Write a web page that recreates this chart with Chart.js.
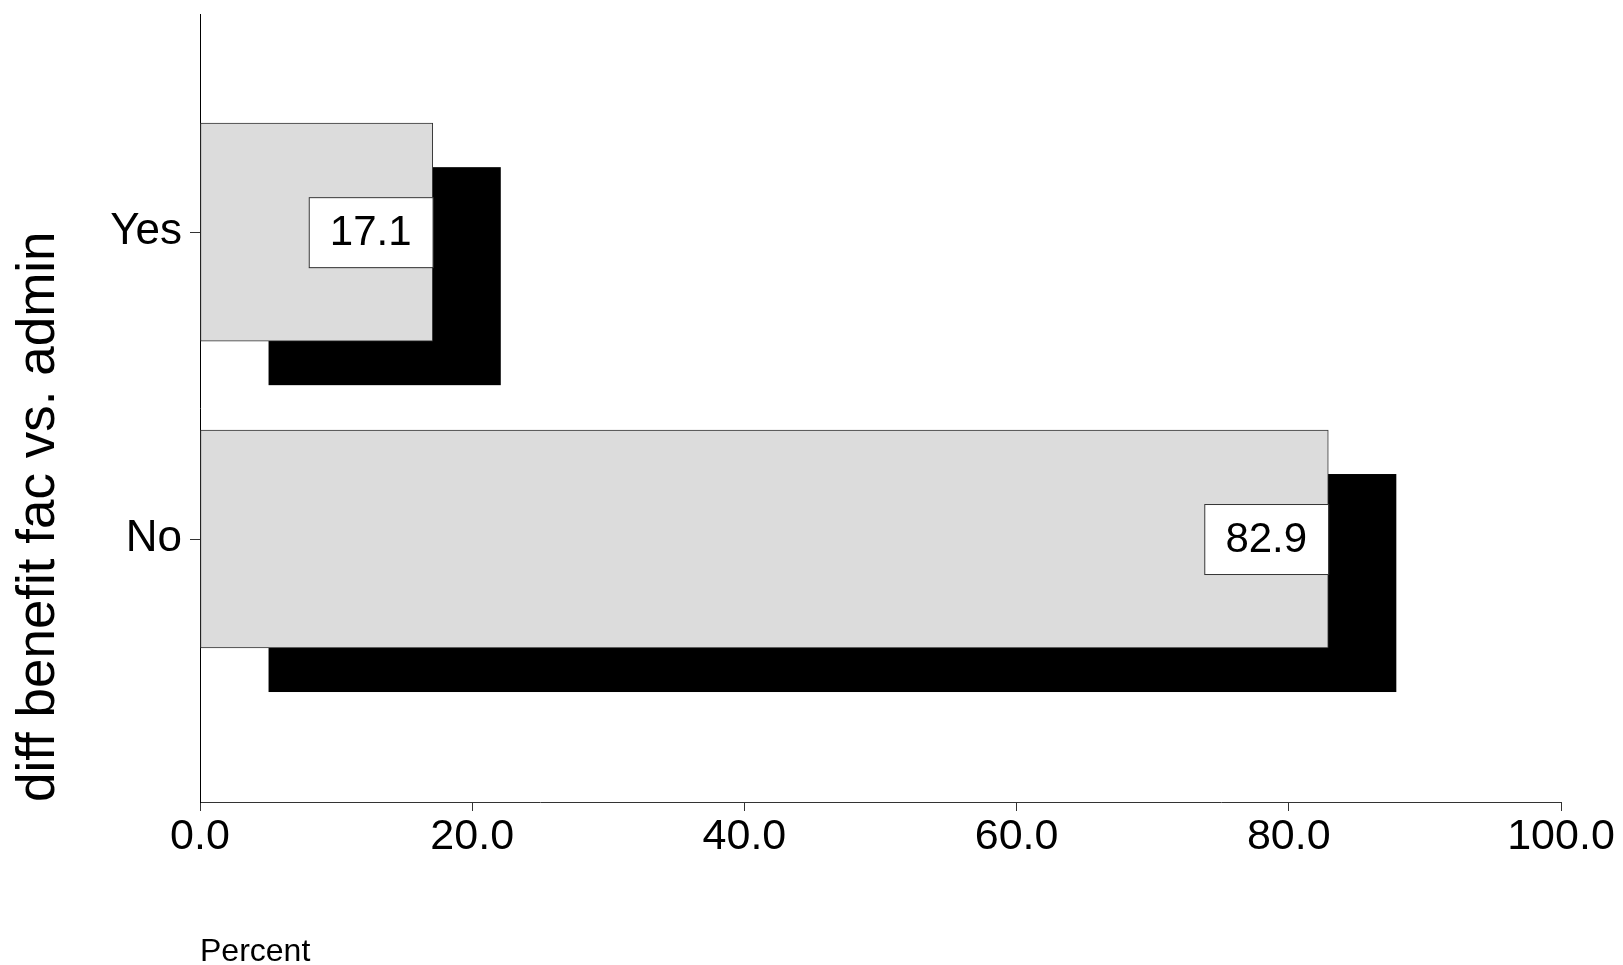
<!DOCTYPE html>
<html>
<head>
<meta charset="utf-8">
<script src="https://cdn.jsdelivr.net/npm/chart.js@4"></script>
<style>
  body { margin: 0; background: #fff; }
  #wrap { width: 1623px; height: 965px; }
</style>
</head>
<body>
<div id="wrap"><canvas id="chart"></canvas></div>
<script>
  // categories and values (top to bottom)
  const categories = ["Yes", "No"];
  const percents = [17.1, 82.9];
  const xTicks = [0, 20, 40, 60, 80, 100];

  const FONT = "'Liberation Sans', Arial, sans-serif";

  // first category goes on top
  const rowOf = (i) => categories.length - 1 - i;

  // black drop shadow behind each bar, and the boxed value labels
  const shadowPlugin = {
    id: "shadow",
    beforeDatasetsDraw(chart) {
      const ctx = chart.ctx;
      const xs = chart.scales.x;
      const dx = xs.getPixelForValue(5) - xs.getPixelForValue(0);
      const dy = 44;
      ctx.save();
      ctx.fillStyle = "#000";
      chart.getDatasetMeta(0).data.forEach((bar) => {
        const p = bar.getProps(["x", "y", "base", "height"], true);
        ctx.fillRect(p.base + dx, p.y - p.height / 2 + dy, p.x - p.base, p.height);
      });
      ctx.restore();
    },
    afterDatasetsDraw(chart) {
      const ctx = chart.ctx;
      ctx.save();
      chart.getDatasetMeta(0).data.forEach((bar, i) => {
        const p = bar.getProps(["x", "y"], true);
        const w = 124, h = 70;
        ctx.fillStyle = "#fff";
        ctx.fillRect(p.x - w, p.y - h / 2, w, h);
        ctx.strokeStyle = "#333";
        ctx.lineWidth = 1;
        ctx.strokeRect(p.x - w + 0.5, p.y - h / 2 + 0.5, w, h);
        ctx.fillStyle = "#000";
        ctx.font = "42px " + FONT;
        ctx.textAlign = "center";
        ctx.textBaseline = "middle";
        ctx.fillText(percents[i].toFixed(1), p.x - w / 2, p.y + 1);
      });
      ctx.restore();
    },
  };

  new Chart(document.getElementById("chart"), {
    type: "bar",
    data: {
      datasets: [
        {
          data: percents.map((v, i) => ({ x: v, y: rowOf(i) })),
          backgroundColor: "#dcdcdc",
          borderColor: "#333",
          borderWidth: 1,
          borderSkipped: false,
          barThickness: 218,
        },
      ],
    },
    plugins: [shadowPlugin],
    options: {
      indexAxis: "y",
      responsive: true,
      maintainAspectRatio: false,
      animation: false,
      layout: { padding: { top: 8, right: 62, left: 0, bottom: 0 } },
      plugins: { legend: { display: false }, tooltip: { enabled: false } },
      scales: {
        x: {
          type: "linear",
          min: 0,
          max: 100,
          afterBuildTicks: (s) => { s.ticks = xTicks.map((v) => ({ value: v })); },
          afterFit: (s) => { s.height = 163; },
          ticks: {
            color: "#000",
            font: { family: FONT, size: 43 },
            padding: 0,
            maxRotation: 0,
            callback: (v) => Number(v).toFixed(1),
          },
          grid: { drawOnChartArea: false, tickLength: 9, color: "#333" },
          border: { color: "#333", width: 1 },
          title: {
            display: true,
            text: "Percent",
            align: "start",
            color: "#000",
            font: { family: FONT, size: 32, lineHeight: 0.8 },
            padding: { top: 0, bottom: 0 },
          },
        },
        y: {
          type: "linear",
          offset: false,
          min: -0.857,
          max: 1.709,
          afterBuildTicks: (s) => { s.ticks = categories.map((c, i) => ({ value: rowOf(i) })); },
          afterFit: (s) => { s.width = 200; },
          ticks: {
            color: "#000",
            font: { family: FONT, size: 44, lineHeight: 0.3 },
            padding: 8,
            callback: (v) => categories[rowOf(v)],
          },
          grid: { drawOnChartArea: false, offset: false, tickLength: 10, color: "#333" },
          border: { color: "#000", width: 1 },
          title: {
            display: true,
            text: "diff benefit fac vs. admin",
            align: "start",
            color: "#000",
            font: { family: FONT, size: 53 },
            padding: { top: 8, bottom: 0 },
          },
        },
      },
    },
  });
</script>
</body>
</html>
